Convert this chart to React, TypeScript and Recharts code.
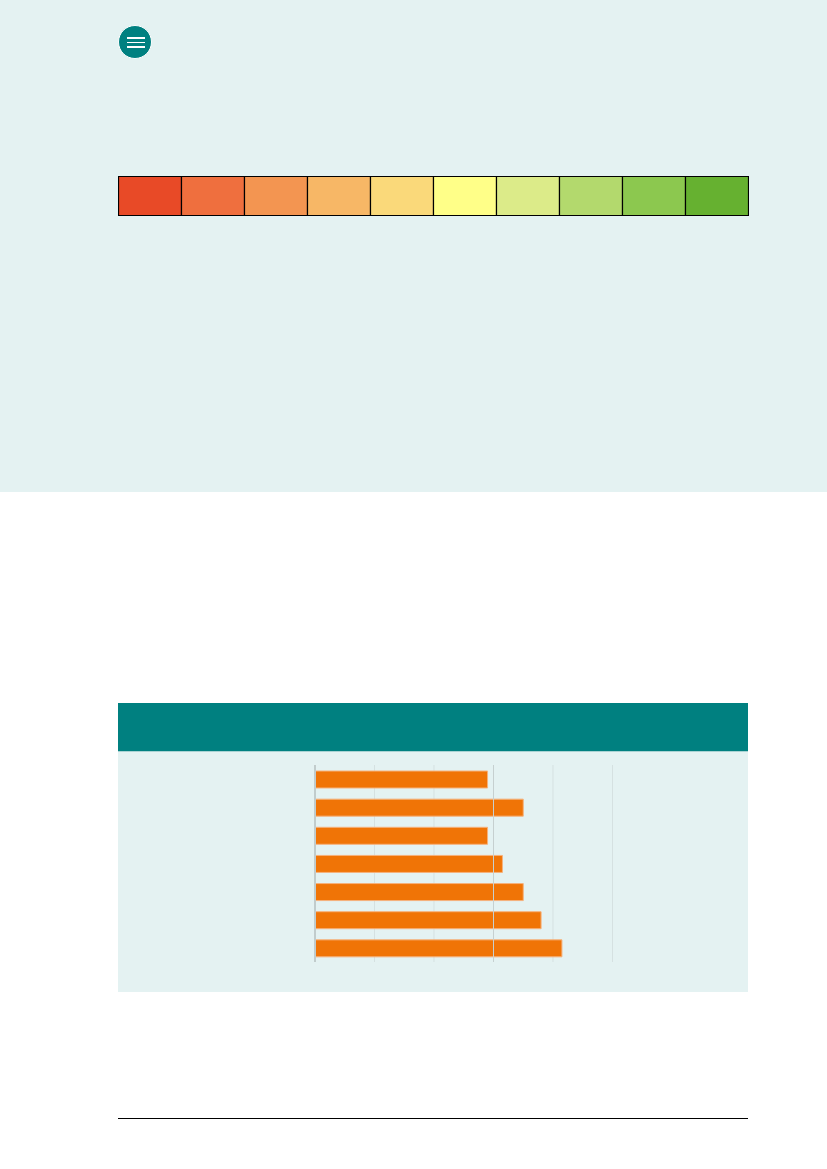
import React from "react";
import { BarChart, Bar, XAxis, YAxis, CartesianGrid, ReferenceLine, Cell } from "recharts";

const scaleSteps = ["1", "2", "3", "4", "5", "6", "7", "8", "9", "10"];
const scaleColors = ["#E84A27", "#EF6F3E", "#F39551", "#F7B766", "#FAD97A", "#FFFF88", "#DCEB89", "#B3D96D", "#8CC84F", "#66B130"];
const scaleValues = [1, 1, 1, 1, 1, 1, 1, 1, 1, 1];

const categories = ["A", "B", "C", "D", "E", "F", "G"];
const values = [29, 35, 29, 31.5, 35, 38, 41.5];
const xTicks = [0, 10, 20, 30, 40, 50];

const scaleData = scaleSteps.map((s, i) => ({ step: s, v: scaleValues[i] }));
const barData = categories.map((c, i) => ({ cat: c, value: values[i] }));

const abs = (left: number, top: number, width: number, height: number, extra: React.CSSProperties = {}): React.CSSProperties => ({
  position: "absolute",
  left,
  top,
  width,
  height,
  ...extra,
});

export default function App() {
  return (
    <div style={abs(0, 0, 827, 1169, { background: "#ffffff", overflow: "hidden" })}>
      <div style={abs(0, 0, 827, 492, { background: "#E4F2F2" })} />
      {/* menu button */}
      <div
        style={abs(118, 25, 34, 34, {
          borderRadius: "50%",
          background: "#008080",
          boxSizing: "border-box",
          border: "1px solid #ffffff",
        })}
      >
        <div style={abs(8, 11, 18, 1.5, { background: "#fff" })} />
        <div style={abs(8, 15.5, 18, 1.5, { background: "#fff" })} />
        <div style={abs(8, 20, 18, 1.5, { background: "#fff" })} />
      </div>
      {/* colour scale */}
      <div style={abs(118, 176, 631, 40)}>
        <BarChart width={631} height={40} data={scaleData} margin={{ top: 0.5, right: 0.5, bottom: 0.5, left: 0.5 }} barCategoryGap={0}>
          <XAxis dataKey="step" hide />
          <YAxis hide domain={[0, 1]} />
          <Bar dataKey="v" isAnimationActive={false} stroke="#000000" strokeWidth={1.2}>
            {scaleData.map((d, i) => (
              <Cell key={d.step} fill={scaleColors[i]} />
            ))}
          </Bar>
        </BarChart>
      </div>
      {/* header */}
      <div style={abs(118, 703, 630, 48, { background: "#008080" })} />
      <div style={abs(118, 751, 630, 241, { background: "#E4F2F2", borderTop: "1px solid #a9d3d3", boxSizing: "border-box" })} />
      <div style={abs(118, 751, 630, 241)}>
        <BarChart
          width={630}
          height={241}
          data={barData}
          layout="vertical"
          margin={{ top: 14, right: 135.5, bottom: 30, left: 197 }}
          barSize={17}
        >
          <CartesianGrid horizontal={false} stroke="#d5e1e1" strokeWidth={1} />
          <XAxis type="number" domain={[0, 50]} ticks={xTicks} hide />
          <YAxis type="category" dataKey="cat" hide />
          <ReferenceLine x={30} stroke="#c6d0d0" strokeWidth={1} />
          <ReferenceLine x={0} stroke="#c1cccc" strokeWidth={2} />
          <Bar dataKey="value" fill="#F07406" stroke="#F6B27C" strokeWidth={1} isAnimationActive={false} />
        </BarChart>
      </div>
      <div style={abs(118, 1118, 630, 1, { background: "#000000" })} />
    </div>
  );
}
